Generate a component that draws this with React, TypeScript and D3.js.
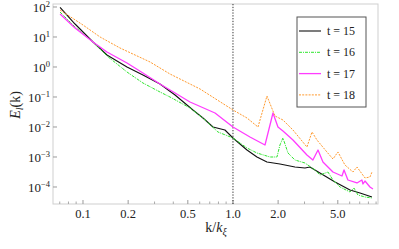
import React from "react";
import * as d3 from "d3";

// t = 15
const k15 = [0.0703, 0.0885, 0.1166, 0.1445, 0.1965, 0.251, 0.326, 0.411, 0.541, 0.631, 0.736, 0.884, 1.0, 1.24, 1.445, 1.685, 2.057, 2.589, 3.02, 3.26, 3.8, 4.79, 6.03, 7.03, 8.45];
const e15 = [98, 27.1, 6.81, 2.51, 1.0, 0.543, 0.271, 0.1166, 0.0369, 0.01995, 0.01, 0.00794, 0.0043, 0.00171, 0.001, 0.000681, 0.000585, 0.000464, 0.00043, 0.000464, 0.000293, 0.000147, 0.0000794, 0.000063, 0.0000464];
// t = 16
const k16 = [0.0703, 0.0885, 0.1166, 0.1445, 0.1965, 0.251, 0.326, 0.38, 0.517, 0.631, 0.794, 1.0, 1.24, 1.445, 1.765, 1.965, 2.057, 2.154, 2.327, 2.589, 3.02, 3.52, 3.8, 4.3, 4.64, 5.17, 6.03, 6.41, 6.81, 7.59, 8.45];
const e16 = [68.1, 21.5, 6.81, 2.33, 0.681, 0.293, 0.147, 0.1, 0.043, 0.01995, 0.00681, 0.0043, 0.002, 0.00136, 0.001, 0.001, 0.00251, 0.0043, 0.00136, 0.000794, 0.000631, 0.000369, 0.000251, 0.000316, 0.000171, 0.0001, 0.0000681, 0.0000926, 0.0000541, 0.0000464, 0.000043];
// t = 17
const k17 = [0.0703, 0.0885, 0.1166, 0.1445, 0.1965, 0.251, 0.326, 0.411, 0.517, 0.759, 1.0, 1.298, 1.635, 1.848, 1.995, 2.154, 2.512, 3.113, 3.41, 3.69, 3.98, 4.64, 5.33, 5.5, 5.84, 6.71, 7.24, 7.36, 7.59, 8.19, 8.58];
const e17 = [58.5, 19.95, 6.81, 3.16, 1.36, 0.631, 0.271, 0.136, 0.068, 0.0293, 0.01, 0.00464, 0.00251, 0.0293, 0.01, 0.00736, 0.00369, 0.00117, 0.000794, 0.00171, 0.000681, 0.000316, 0.000233, 0.000369, 0.000171, 0.000136, 0.000171, 0.000126, 0.000158, 0.0001, 0.0000858];
// t = 18
const k18 = [0.0703, 0.1, 0.13, 0.1765, 0.28, 0.38, 0.603, 1.0, 1.24, 1.468, 1.685, 1.905, 2.154, 2.512, 3.113, 3.365, 3.63, 4.23, 4.64, 5.01, 5.58, 6.31, 6.71, 7.59, 8.19, 8.45];
const e18 = [79.4, 25.1, 10, 4.3, 1.468, 0.585, 0.185, 0.0369, 0.01995, 0.01, 0.108, 0.0233, 0.0171, 0.00794, 0.00215, 0.00681, 0.00369, 0.00147, 0.000857, 0.00147, 0.000541, 0.000316, 0.000464, 0.0002, 0.000215, 0.000316];

const xMajor = [0.1, 0.2, 0.5, 1.0, 2.0, 5.0];
const xMajorLabels = ["0.1", "0.2", "0.5", "1.0", "2.0", "5.0"];
const xMinor = [0.07, 0.08, 0.09, 0.3, 0.4, 0.6, 0.7, 0.8, 0.9, 3, 4, 6, 7, 8, 9];
const yExponents = [2, 1, 0, -1, -2, -3, -4];
const legendLabels = ["t = 15", "t = 16", "t = 17", "t = 18"];

const series = [
  { k: k15, e: e15, color: "#111111", width: 1.1, dash: "" },
  { k: k16, e: e16, color: "#2fe62f", width: 1, dash: "3,1,1,1" },
  { k: k17, e: e17, color: "#ff3cff", width: 1.3, dash: "" },
  { k: k18, e: e18, color: "#ff9a2e", width: 1, dash: "2,1.2" },
];

const L = 53, R = 378, T = 4, B = 204;
const FONT = '"Liberation Serif", "Times New Roman", serif';
const ts: React.CSSProperties = { fontFamily: FONT };

export default function App() {
  const x = d3.scaleLog().domain([Math.pow(10, -1.2), Math.pow(10, 0.967)]).range([L, R]);
  const y = d3.scaleLog().domain([Math.pow(10, -4.567), Math.pow(10, 2.1)]).range([B, T]);
  const line = d3.line<[number, number]>().x((d) => x(d[0])).y((d) => y(d[1]));

  return (
    <svg width={399} height={249} style={{ position: "absolute", left: 0, top: 0, background: "#fff", fontFamily: FONT }}>
      <rect x={0} y={0} width={399} height={249} fill="#fff" />
      <defs>
        <clipPath id="plot"><rect x={L} y={T} width={R - L} height={B - T} /></clipPath>
      </defs>
      {/* frame */}
      <rect x={L} y={T} width={R - L} height={B - T} fill="none" stroke="#cfcfcf" strokeWidth={1} />
      {/* x ticks */}
      {xMajor.map((v, i) => (
        <g key={"xm" + i}>
          <line x1={x(v)} x2={x(v)} y1={B} y2={B - 4} stroke="#9a9a9a" />
          <text x={x(v)} y={218} textAnchor="middle" fontSize={12.5} fill="#222" style={ts}>{xMajorLabels[i]}</text>
        </g>
      ))}
      {xMinor.map((v, i) => (
        <line key={"xn" + i} x1={x(v)} x2={x(v)} y1={B} y2={B - 2.5} stroke="#aaa" />
      ))}
      {/* y ticks */}
      {yExponents.map((p) => (
        <g key={"y" + p}>
          <line x1={L} x2={L + 4} y1={y(Math.pow(10, p))} y2={y(Math.pow(10, p))} stroke="#9a9a9a" />
          <text x={50} y={y(Math.pow(10, p)) + 5} textAnchor="end" fontSize={13} fill="#222" style={ts}>
            10<tspan fontSize={8.5} dy={-5}>{p < 0 ? "\u2212" + Math.abs(p) : String(p)}</tspan>
          </text>
        </g>
      ))}
      {/* reference line */}
      <line x1={x(1)} x2={x(1)} y1={T} y2={B} stroke="#333" strokeWidth={1} strokeDasharray="1.3,1.5" />
      {/* series */}
      <g clipPath="url(#plot)">
        {series.map((s, i) => (
          <path key={i} d={line(s.k.map((kv, j) => [kv, s.e[j]] as [number, number])) || ""} fill="none" stroke={s.color} strokeWidth={s.width} strokeDasharray={s.dash || undefined} strokeLinejoin="round" />
        ))}
      </g>
      {/* legend */}
      <rect x={297} y={17} width={69} height={90} fill="#fff" stroke="#555" strokeWidth={1} />
      {series.map((s, i) => {
        const ly = 31 + i * 21.3;
        return (
          <g key={"lg" + i}>
            <line x1={299} x2={321} y1={ly} y2={ly} stroke={s.color} strokeWidth={s.width} strokeDasharray={s.dash || undefined} />
            <text x={327} y={ly + 4} fontSize={12} fill="#222" style={ts}>{legendLabels[i]}</text>
          </g>
        );
      })}
      {/* axis labels */}
      <text x={216} y={232} textAnchor="middle" fontSize={14} fill="#222" style={ts}>
        k/<tspan fontStyle="italic">k</tspan><tspan fontStyle="italic" fontSize={10} dy={3}>ξ</tspan>
      </text>
      <text transform="translate(20,105) rotate(-90)" textAnchor="middle" fontSize={14} fill="#222" style={ts}>
        <tspan fontStyle="italic">E</tspan><tspan fontStyle="italic" fontSize={10} dy={3}>l</tspan><tspan dy={-3}>(k)</tspan>
      </text>
    </svg>
  );
}
